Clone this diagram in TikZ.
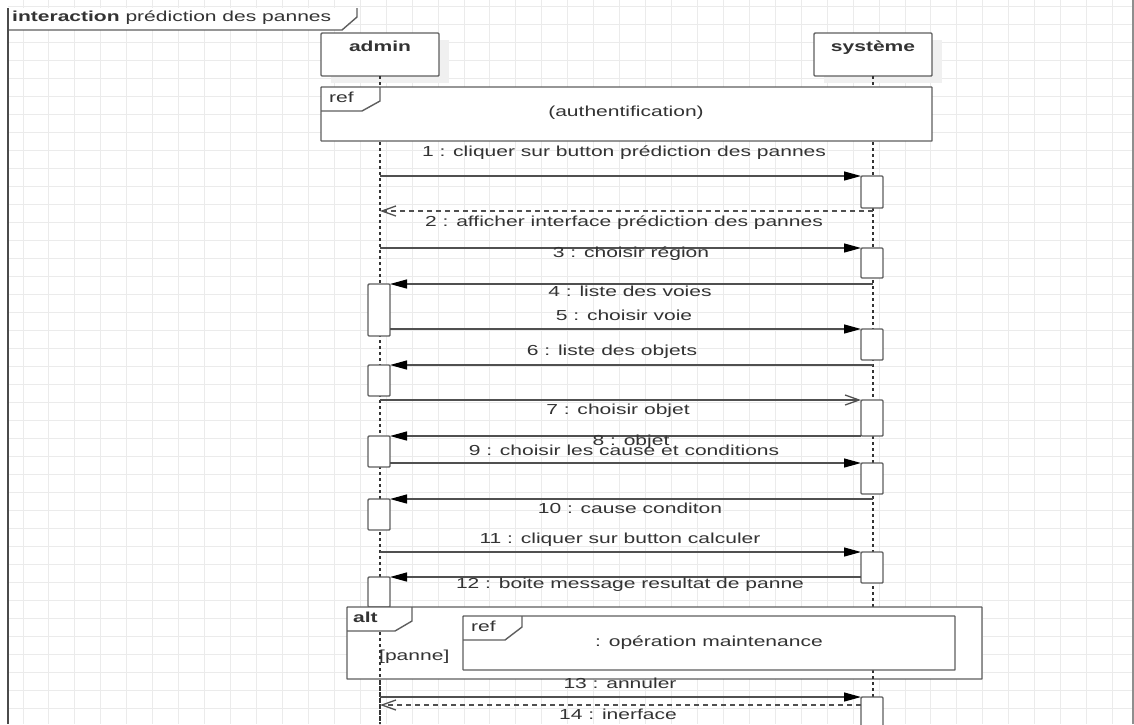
\documentclass[tikz,border=0pt]{standalone}
\usepackage{fontspec}
\setmainfont{Liberation Sans}[FakeStretch=1.45]
\usetikzlibrary{arrows.meta}
\definecolor{gridc}{HTML}{EBEBEB}
\definecolor{boxc}{HTML}{5E5E5E}
\definecolor{msgc}{HTML}{505050}
\definecolor{lifec}{HTML}{333333}
\definecolor{txtc}{HTML}{333333}
\definecolor{shadowc}{HTML}{F0F0F0}
\begin{document}
\begin{tikzpicture}[x=1pt,y=-1pt,
  gridline/.style={draw=gridc, line width=0.9pt},
  lbl/.style={text=txtc, inner sep=0pt, text height=10.5pt, text depth=3pt,
    font=\fontsize{14.5}{17}\selectfont},
  headbox/.style={draw=boxc, line width=1.4pt, fill=white, minimum width=118pt,
    minimum height=43pt, inner sep=0pt, outer sep=0pt, rounded corners=1pt, anchor=north},
  act/.style={draw=boxc, fill=white, line width=1.4pt, minimum width=22pt,
    inner sep=0pt, outer sep=0pt, anchor=north, rounded corners=1pt},
  framebox/.style={draw=boxc, line width=1.4pt, fill=white, rounded corners=0.5pt},
  lifeline/.style={draw=lifec, line width=1.1pt, dash pattern=on 3pt off 3pt},
  msg/.style={draw=msgc, line width=1.3pt, -{Triangle[length=17pt,width=9pt,color=black]}},
  msgopen/.style={draw=msgc, line width=1.3pt, -{Straight Barb[length=14pt,width=10pt,color=msgc]}},
  ret/.style={draw=msgc, line width=1.3pt, dash pattern=on 5pt off 4pt,
    -{Straight Barb[length=14pt,width=10pt,color=msgc]}},
]
\useasboundingbox (0,0) rectangle (1134,724);
\fill[white] (0,0) rectangle (1134,724);

% background grid
\foreach \i in {0,...,42} { \draw[gridline] ({23+25.94*\i},0) -- ({23+25.94*\i},724); }
\foreach \j in {0,...,39} { \draw[gridline] (8,{6+18*\j}) -- (1134,{6+18*\j}); }

% interaction frame
\fill[white] (8,8) -- (357,8) -- (357,17) -- (342,30) -- (8,30) -- cycle;
\draw[boxc, line width=1.4pt] (357,8) -- (357,17) -- (342,30) -- (8,30);
\draw[boxc!80!black, line width=2.2pt] (8,8) -- (8,724);
\draw[boxc!70, line width=1.2pt] (1133,0) -- (1133,724);
\node[lbl, anchor=west] (title) at (12,18) {\textbf{interaction} prédiction des pannes};

% lifeline heads
\fill[shadowc] (331,40) rectangle (449,83);
\fill[shadowc] (824,40) rectangle (942,83);
\node[headbox] (admin) at (380,33) {};
\node[headbox] (sys) at (873,33) {};
\node[lbl, font=\fontsize{14.5}{17}\selectfont\bfseries] (adminT) at (admin.north |- 0,48) {admin};
\node[lbl, font=\fontsize{14.5}{17}\selectfont\bfseries] (sysT) at (sys.north |- 0,48) {système};

% lifelines
\draw[lifeline] (admin.south) -- (admin.south |- 0,724);
\draw[lifeline] (sys.south) -- (sys.south |- 0,724);

% ref: authentification
\node[framebox, minimum width=611pt, minimum height=54pt, inner sep=0pt, outer sep=0pt,
  anchor=north west] (auth) at (321,87) {};
\draw[boxc, line width=1.4pt] (380,87) -- (380,101) -- (362,111) -- (321,111);
\node[lbl, anchor=west] (authTag) at (329,99) {ref};
\node[lbl] (authT) at (626,113) {(authentification)};

% activation bars
\node[act, minimum height=32pt] (s1) at (872,176) {};
\node[act, minimum height=30pt] (s2) at (872,248) {};
\node[act, minimum height=31pt] (s3) at (872,329) {};
\node[act, minimum height=36pt] (s4) at (872,400) {};
\node[act, minimum height=31pt] (s5) at (872,463) {};
\node[act, minimum height=31pt] (s6) at (872,552) {};
\node[act, minimum height=52pt] (a1) at (379,284) {};
\node[act, minimum height=31pt] (a2) at (379,365) {};
\node[act, minimum height=31pt] (a3) at (379,436) {};
\node[act, minimum height=31pt] (a4) at (379,499) {};
\node[act, minimum height=30pt] (a5) at (379,577) {};

% messages
\draw[msg] (admin |- s1.north) -- (s1.north west);
\node[lbl] (l1) at (624,153) {1 : cliquer sur button prédiction des pannes};
\draw[ret] (sys |- 0,211) -- (admin |- 0,211);
\node[lbl] (l2) at (624,223) {2 : afficher interface prédiction des pannes};
\draw[msg] (admin |- s2.north) -- (s2.north west);
\node[lbl] (l3) at (631,254) {3 : choisir région};
\draw[msg] (sys |- a1.north) -- (a1.north east);
\node[lbl] (l4) at (630,293) {4 : liste des voies};
\draw[msg] (a1.east |- s3.north) -- (s3.north west);
\node[lbl] (l5) at (624,317) {5 : choisir voie};
\draw[msg] (sys |- a2.north) -- (a2.north east);
\node[lbl] (l6) at (612,352) {6 : liste des objets};
\draw[msgopen] (admin |- s4.north) -- (s4.north west);
\node[lbl] (l7) at (618,411) {7 : choisir objet};
\draw[msg] (s4.south west) -- (a3.north east);
\node[lbl] (l8) at (631,442) {8 : objet};
\draw[msg] (a3.east |- s5.north) -- (s5.north west);
\node[lbl] (l9) at (624,452) {9 : choisir les cause et conditions};
\draw[msg] (sys |- a4.north) -- (a4.north east);
\node[lbl] (l10) at (630,510) {10 : cause conditon};
\draw[msg] (admin |- s6.north) -- (s6.north west);
\node[lbl] (l11) at (620,540) {11 : cliquer sur button calculer};
\draw[msg] (s6.west |- a5.north) -- (a5.north east);
\node[lbl] (l12) at (630,585) {12 : boite message resultat de panne};

% alt fragment
\node[framebox, minimum width=635pt, minimum height=72pt, inner sep=0pt, outer sep=0pt,
  anchor=north west] (alt) at (347,607) {};
\draw[boxc, line width=1.4pt] (412,607) -- (412,621) -- (395,631) -- (347,631);
\node[lbl, anchor=west, font=\fontsize{14.5}{17}\selectfont\bfseries] (altTag) at (353,619) {alt};
\draw[lifeline] (admin.south |- 0,632) -- (admin.south |- 0,724);
\draw[lifeline] (sys.south |- 0,670) -- (sys.south |- 0,696);
\node[lbl, anchor=west] (guard) at (379,657) {[panne]};

% ref: opération maintenance
\node[framebox, minimum width=492pt, minimum height=54pt, inner sep=0pt, outer sep=0pt,
  anchor=north west] (maint) at (463,616) {};
\draw[boxc, line width=1.4pt] (522,616) -- (522,627) -- (505,640) -- (463,640);
\node[lbl, anchor=west] (maintTag) at (471,628) {ref};
\node[lbl] (maintT) at (709,643) {: opération maintenance};

% last exchange
\node[act, minimum height=40pt] (s7) at (872,697) {};
\draw[msg] (admin |- s7.north) -- (s7.north west);
\node[lbl] (l13) at (620,685) {13 : annuler};
\draw[ret] (s7.west |- 0,705) -- (admin |- 0,705);
\node[lbl] (l14) at (618,716) {14 : inerface};
\end{tikzpicture}
\end{document}
